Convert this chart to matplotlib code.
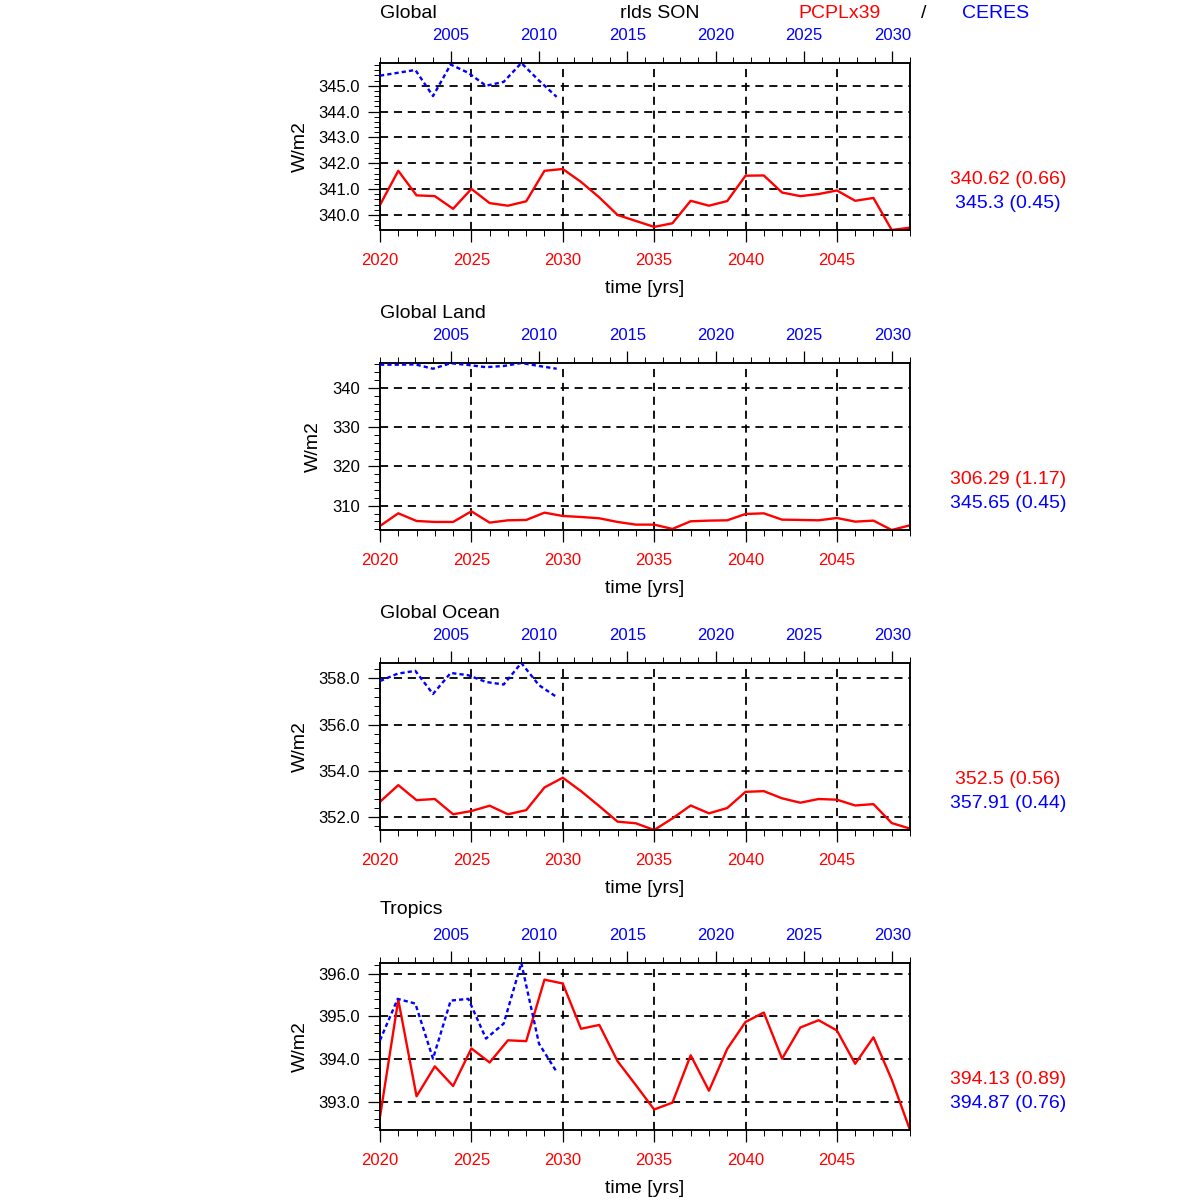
import matplotlib
matplotlib.use("Agg")
import matplotlib.pyplot as plt
from matplotlib.ticker import MultipleLocator, FormatStrFormatter

plt.rcParams["font.family"] = ["Liberation Sans", "DejaVu Sans"]

# model years (bottom axis) and obs years (top axis)
years_model = list(range(2020, 2050))
years_obs = list(range(2001, 2012))

regions = ["Global", "Global Land", "Global Ocean", "Tropics"]

model_global = [340.39, 341.71, 340.76, 340.73, 340.24, 341.01, 340.46, 340.36, 340.53, 341.71,
                341.78, 341.28, 340.68, 340.00, 339.77, 339.54, 339.68, 340.55, 340.36, 340.54,
                341.52, 341.53, 340.87, 340.73, 340.81, 340.95, 340.55, 340.66, 339.42, 339.51]
obs_global = [345.39, 345.50, 345.61, 344.60, 345.82, 345.50, 345.00, 345.15, 345.88, 345.20, 344.57]

model_land = [304.83, 308.05, 306.10, 305.85, 305.85, 308.56, 305.68, 306.27, 306.36, 308.22,
              307.37, 307.12, 306.78, 305.85, 305.17, 305.17, 304.07, 306.02, 306.19, 306.27,
              307.88, 308.05, 306.44, 306.36, 306.27, 306.86, 305.93, 306.19, 303.80, 305.00]
obs_land = [345.93, 345.93, 346.00, 344.90, 346.30, 345.85, 345.30, 345.60, 346.36, 345.60, 344.90]

model_ocean = [352.66, 353.38, 352.73, 352.78, 352.12, 352.26, 352.49, 352.12, 352.30, 353.28,
               353.70, 353.12, 352.47, 351.80, 351.73, 351.44, 351.94, 352.50, 352.16, 352.39,
               353.09, 353.12, 352.81, 352.62, 352.78, 352.75, 352.50, 352.56, 351.74, 351.50]
obs_ocean = [357.88, 358.20, 358.32, 357.32, 358.23, 358.13, 357.84, 357.73, 358.66, 357.70, 357.19]

model_tropics = [392.65, 395.39, 393.13, 393.83, 393.37, 394.25, 393.92, 394.44, 394.42, 395.86,
                 395.77, 394.71, 394.80, 393.95, 393.39, 392.82, 392.98, 394.09, 393.26, 394.24,
                 394.87, 395.09, 394.01, 394.74, 394.91, 394.67, 393.89, 394.51, 393.52, 392.34]
obs_tropics = [394.44, 395.41, 395.30, 394.01, 395.37, 395.41, 394.48, 394.83, 396.25, 394.36, 393.70]

model_series = [model_global, model_land, model_ocean, model_tropics]
obs_series = [obs_global, obs_land, obs_ocean, obs_tropics]

model_stats = ["340.62 (0.66)", "306.29 (1.17)", "352.5 (0.56)", "394.13 (0.89)"]
obs_stats = ["345.3 (0.45)", "345.65 (0.45)", "357.91 (0.44)", "394.87 (0.76)"]

ytick_step = [1.0, 10.0, 2.0, 1.0]
ytick_fmt = ["%.1f", "%d", "%.1f", "%.1f"]
title_y = [18, 318, 618, 914]

W = H = 1200.0
fig = plt.figure(figsize=(12, 12), dpi=100)


def ftext(x, y, s, **kw):
    # place text using pixel coordinates measured from the top-left corner
    fig.text(x / W, 1 - y / H, s, **kw)


grid_kw = dict(color="black", linewidth=1.3, linestyle=(0, (4.5, 3.2)))

for i, name in enumerate(regions):
    top = 63 + 300 * i
    bottom = 230 + 300 * i
    ax = fig.add_axes([380 / W, 1 - bottom / H, 530 / W, (bottom - top) / H])
    ax2 = ax.twiny()

    red = model_series[i]
    blue = obs_series[i]

    ax.plot(years_model, red, color="red", linewidth=1.7, zorder=3)
    ax2.plot(years_obs, blue, color="blue", linewidth=1.7, linestyle=(0, (1.8, 1.3)), zorder=3)

    ax.set_xlim(2020, 2049)
    ax2.set_xlim(2001, 2031)
    lo = min(min(red), min(blue))
    hi = max(max(red), max(blue))
    ax.set_ylim(lo, hi)

    ax.xaxis.set_major_locator(MultipleLocator(5))
    ax.xaxis.set_minor_locator(MultipleLocator(1))
    ax2.xaxis.set_major_locator(MultipleLocator(5))
    ax2.xaxis.set_minor_locator(MultipleLocator(1))
    ax.yaxis.set_major_locator(MultipleLocator(ytick_step[i]))
    ax.yaxis.set_minor_locator(MultipleLocator(ytick_step[i] / 5))
    ax.yaxis.set_major_formatter(FormatStrFormatter(ytick_fmt[i]))
    ax.xaxis.set_major_formatter(FormatStrFormatter("%d"))
    ax2.xaxis.set_major_formatter(FormatStrFormatter("%d"))

    ax.tick_params(axis="both", which="major", direction="out", length=8.5, width=0.9,
                   labelsize=12, pad=6)
    ax.tick_params(axis="both", which="minor", direction="out", length=4.3, width=0.7)
    ax.tick_params(axis="x", labelcolor="red", pad=8)
    ax2.tick_params(axis="x", which="major", direction="out", length=8.5, width=0.9,
                    labelsize=12, labelcolor="blue", pad=5.8)
    ax2.tick_params(axis="x", which="minor", direction="out", length=4.3, width=0.7)

    ax.grid(True, which="major", axis="both", **grid_kw)
    ax.set_axisbelow(True)

    for a in (ax, ax2):
        for sp in a.spines.values():
            sp.set_linewidth(1.1)

    ax.set_xlabel("time [yrs]", fontsize=14, labelpad=8.5)
    ax.set_ylabel("W/m2", fontsize=14, labelpad=7)

    ftext(380, title_y[i], name, fontsize=14, ha="left", va="baseline")
    ftext(1008, top + 116, model_stats[i], fontsize=14, color="red", ha="center", va="center")
    ftext(1008, top + 140, obs_stats[i], fontsize=14, color="blue", ha="center", va="center")

ftext(660, 18, "rlds SON", fontsize=14, ha="center", va="baseline")
ftext(840, 18, "PCPLx39", fontsize=14, color="red", ha="center", va="baseline")
ftext(924, 18, "/", fontsize=14, ha="center", va="baseline")
ftext(996, 18, "CERES", fontsize=14, color="blue", ha="center", va="baseline")

fig.savefig("out.png", dpi=100, facecolor="white")
